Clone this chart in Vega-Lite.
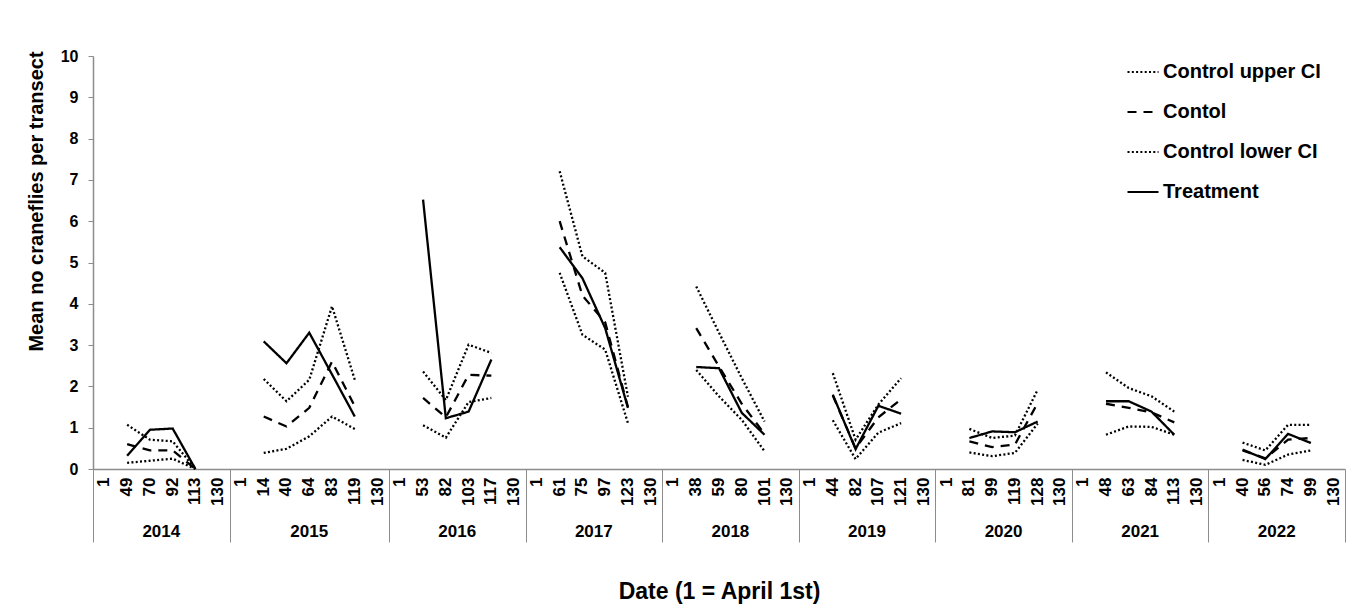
{
  "$schema": "https://vega.github.io/schema/vega-lite/v6.json",
  "autosize": {"type": "none"},
  "padding": {"left": 93, "top": 56, "right": 15, "bottom": 141},
  "width": 1252,
  "height": 413,
  "background": "white",
  "config": {
    "view": {"stroke": null},
    "font": "Liberation Sans",
    "axis": {"grid": false, "labelColor": "#000", "titleColor": "#000", "labelFont": "Liberation Sans", "titleFont": "Liberation Sans", "labelFontWeight": "bold", "titleFontWeight": "bold"}
  },
  "data": {
    "values": [
      {"k": "2014|49", "yr": 2014, "d": 49, "Control upper CI": 1.07, "Contol": 0.60, "Control lower CI": 0.15, "Treatment": 0.32},
      {"k": "2014|70", "yr": 2014, "d": 70, "Control upper CI": 0.71, "Contol": 0.45, "Control lower CI": 0.20, "Treatment": 0.95},
      {"k": "2014|92", "yr": 2014, "d": 92, "Control upper CI": 0.67, "Contol": 0.45, "Control lower CI": 0.25, "Treatment": 0.98},
      {"k": "2014|113", "yr": 2014, "d": 113, "Control upper CI": 0, "Contol": 0, "Control lower CI": 0, "Treatment": 0},
      {"k": "2015|14", "yr": 2015, "d": 14, "Control upper CI": 2.18, "Contol": 1.27, "Control lower CI": 0.39, "Treatment": 3.09},
      {"k": "2015|40", "yr": 2015, "d": 40, "Control upper CI": 1.64, "Contol": 1.03, "Control lower CI": 0.49, "Treatment": 2.56},
      {"k": "2015|64", "yr": 2015, "d": 64, "Control upper CI": 2.16, "Contol": 1.48, "Control lower CI": 0.79, "Treatment": 3.30},
      {"k": "2015|83", "yr": 2015, "d": 83, "Control upper CI": 3.94, "Contol": 2.60, "Control lower CI": 1.27, "Treatment": 2.29},
      {"k": "2015|119", "yr": 2015, "d": 119, "Control upper CI": 2.16, "Contol": 1.52, "Control lower CI": 0.97, "Treatment": 1.27},
      {"k": "2016|53", "yr": 2016, "d": 53, "Control upper CI": 2.36, "Contol": 1.72, "Control lower CI": 1.06, "Treatment": 6.52},
      {"k": "2016|82", "yr": 2016, "d": 82, "Control upper CI": 1.67, "Contol": 1.25, "Control lower CI": 0.76, "Treatment": 1.23},
      {"k": "2016|103", "yr": 2016, "d": 103, "Control upper CI": 3.01, "Contol": 2.28, "Control lower CI": 1.62, "Treatment": 1.39},
      {"k": "2016|117", "yr": 2016, "d": 117, "Control upper CI": 2.81, "Contol": 2.26, "Control lower CI": 1.72, "Treatment": 2.65},
      {"k": "2017|61", "yr": 2017, "d": 61, "Control upper CI": 7.21, "Contol": 6.00, "Control lower CI": 4.75, "Treatment": 5.37},
      {"k": "2017|75", "yr": 2017, "d": 75, "Control upper CI": 5.15, "Contol": 4.20, "Control lower CI": 3.25, "Treatment": 4.62},
      {"k": "2017|97", "yr": 2017, "d": 97, "Control upper CI": 4.75, "Contol": 3.55, "Control lower CI": 2.89, "Treatment": 3.41},
      {"k": "2017|123", "yr": 2017, "d": 123, "Control upper CI": 1.75, "Contol": 1.50, "Control lower CI": 1.11, "Treatment": 1.48},
      {"k": "2018|38", "yr": 2018, "d": 38, "Control upper CI": 4.42, "Contol": 3.41, "Control lower CI": 2.40, "Treatment": 2.47},
      {"k": "2018|59", "yr": 2018, "d": 59, "Control upper CI": 3.30, "Contol": 2.48, "Control lower CI": 1.76, "Treatment": 2.44},
      {"k": "2018|80", "yr": 2018, "d": 80, "Control upper CI": 2.20, "Contol": 1.58, "Control lower CI": 1.19, "Treatment": 1.36},
      {"k": "2018|101", "yr": 2018, "d": 101, "Control upper CI": 1.15, "Contol": 0.85, "Control lower CI": 0.43, "Treatment": 0.83},
      {"k": "2019|44", "yr": 2019, "d": 44, "Control upper CI": 2.32, "Contol": 1.78, "Control lower CI": 1.18, "Treatment": 1.80},
      {"k": "2019|82", "yr": 2019, "d": 82, "Control upper CI": 0.71, "Contol": 0.50, "Control lower CI": 0.24, "Treatment": 0.48},
      {"k": "2019|107", "yr": 2019, "d": 107, "Control upper CI": 1.56, "Contol": 1.25, "Control lower CI": 0.88, "Treatment": 1.53},
      {"k": "2019|121", "yr": 2019, "d": 121, "Control upper CI": 2.20, "Contol": 1.69, "Control lower CI": 1.11, "Treatment": 1.34},
      {"k": "2020|81", "yr": 2020, "d": 81, "Control upper CI": 0.97, "Contol": 0.67, "Control lower CI": 0.40, "Treatment": 0.75},
      {"k": "2020|99", "yr": 2020, "d": 99, "Control upper CI": 0.75, "Contol": 0.53, "Control lower CI": 0.31, "Treatment": 0.91},
      {"k": "2020|119", "yr": 2020, "d": 119, "Control upper CI": 0.81, "Contol": 0.59, "Control lower CI": 0.39, "Treatment": 0.89},
      {"k": "2020|128", "yr": 2020, "d": 128, "Control upper CI": 1.92, "Contol": 1.60, "Control lower CI": 1.10, "Treatment": 1.15},
      {"k": "2021|48", "yr": 2021, "d": 48, "Control upper CI": 2.34, "Contol": 1.58, "Control lower CI": 0.83, "Treatment": 1.64},
      {"k": "2021|63", "yr": 2021, "d": 63, "Control upper CI": 1.96, "Contol": 1.48, "Control lower CI": 1.03, "Treatment": 1.64},
      {"k": "2021|84", "yr": 2021, "d": 84, "Control upper CI": 1.76, "Contol": 1.37, "Control lower CI": 1.02, "Treatment": 1.39},
      {"k": "2021|113", "yr": 2021, "d": 113, "Control upper CI": 1.39, "Contol": 1.13, "Control lower CI": 0.83, "Treatment": 0.83},
      {"k": "2022|40", "yr": 2022, "d": 40, "Control upper CI": 0.64, "Contol": 0.45, "Control lower CI": 0.22, "Treatment": 0.47},
      {"k": "2022|56", "yr": 2022, "d": 56, "Control upper CI": 0.45, "Contol": 0.26, "Control lower CI": 0.10, "Treatment": 0.24},
      {"k": "2022|74", "yr": 2022, "d": 74, "Control upper CI": 1.07, "Contol": 0.71, "Control lower CI": 0.35, "Treatment": 0.85},
      {"k": "2022|99", "yr": 2022, "d": 99, "Control upper CI": 1.07, "Contol": 0.75, "Control lower CI": 0.45, "Treatment": 0.63}
    ]
  },
  "transform": [
    {"fold": ["Control upper CI", "Contol", "Control lower CI", "Treatment"], "as": ["series", "value"]}
  ],
  "resolve": {"axis": {"x": "independent"}},
  "layer": [
    {
      "mark": {"type": "point", "opacity": 0},
      "encoding": {
        "x": {
          "field": "k", "type": "ordinal",
          "scale": {"type": "band", "paddingInner": 0, "paddingOuter": 0, "domain": ["2014|1","2014|49","2014|70","2014|92","2014|113","2014|130","2015|1","2015|14","2015|40","2015|64","2015|83","2015|119","2015|130","2016|1","2016|53","2016|82","2016|103","2016|117","2016|130","2017|1","2017|61","2017|75","2017|97","2017|123","2017|130","2018|1","2018|38","2018|59","2018|80","2018|101","2018|130","2019|1","2019|44","2019|82","2019|107","2019|121","2019|130","2020|1","2020|81","2020|99","2020|119","2020|128","2020|130","2021|1","2021|48","2021|63","2021|84","2021|113","2021|130","2022|1","2022|40","2022|56","2022|74","2022|99","2022|130"]},
          "axis": {
            "orient": "bottom",
            "title": null, "labels": false, "domain": false, "ticks": true,
            "tickBand": "extent", "tickSize": 73, "tickColor": "#8c8c8c", "tickWidth": 1,
            "tickOpacity": {"condition": {"test": "!datum.value || indexof(datum.value, '|130') > 0", "value": 1}, "value": 0}
          }
        }
      }
    },
    {
      "mark": {"type": "point", "opacity": 0},
      "encoding": {
        "x": {
          "field": "k", "type": "ordinal",
          "scale": {"type": "band", "paddingInner": 0, "paddingOuter": 0, "domain": ["2014|1","2014|49","2014|70","2014|92","2014|113","2014|130","2015|1","2015|14","2015|40","2015|64","2015|83","2015|119","2015|130","2016|1","2016|53","2016|82","2016|103","2016|117","2016|130","2017|1","2017|61","2017|75","2017|97","2017|123","2017|130","2018|1","2018|38","2018|59","2018|80","2018|101","2018|130","2019|1","2019|44","2019|82","2019|107","2019|121","2019|130","2020|1","2020|81","2020|99","2020|119","2020|128","2020|130","2021|1","2021|48","2021|63","2021|84","2021|113","2021|130","2022|1","2022|40","2022|56","2022|74","2022|99","2022|130"]},
          "axis": {
            "orient": "bottom",
            "title": "Date (1 = April 1st)", "titleFontSize": 23, "titleY": 122, "titleBaseline": "middle",
            "domain": false, "ticks": false, "labelAngle": 0, "labelAlign": "center", "labelBaseline": "top",
            "labelFontSize": 17, "labelPadding": 54, "labelOverlap": false, "labelLimit": 200,
            "labelExpr": "indexof(['2014|70','2015|64','2016|82','2017|75','2018|59','2019|82','2020|99','2021|63','2022|56'], datum.value) >= 0 ? split(datum.value, '|')[0] : ''",
            "labelOffset": {"condition": {"test": "datum.value == '2015|64'", "value": 0}, "value": 11.4}
          }
        }
      }
    },
    {
      "mark": {"type": "line", "strokeWidth": 2.3, "color": "#000"},
      "encoding": {
        "x": {
          "field": "k", "type": "ordinal",
          "scale": {"type": "band", "paddingInner": 0, "paddingOuter": 0, "domain": ["2014|1","2014|49","2014|70","2014|92","2014|113","2014|130","2015|1","2015|14","2015|40","2015|64","2015|83","2015|119","2015|130","2016|1","2016|53","2016|82","2016|103","2016|117","2016|130","2017|1","2017|61","2017|75","2017|97","2017|123","2017|130","2018|1","2018|38","2018|59","2018|80","2018|101","2018|130","2019|1","2019|44","2019|82","2019|107","2019|121","2019|130","2020|1","2020|81","2020|99","2020|119","2020|128","2020|130","2021|1","2021|48","2021|63","2021|84","2021|113","2021|130","2022|1","2022|40","2022|56","2022|74","2022|99","2022|130"]},
          "axis": {
            "orient": "bottom",
            "title": null, "ticks": false, "domain": true, "domainColor": "#8c8c8c", "domainWidth": 1.5,
            "labelAngle": 270, "labelAlign": "right", "labelBaseline": "middle", "labelPadding": 8,
            "labelFontSize": 17, "labelOverlap": false,
            "labelExpr": "split(datum.value, '|')[1]"
          }
        },
        "y": {
          "field": "value", "type": "quantitative",
          "scale": {"domain": [0, 10], "nice": false, "zero": true},
          "axis": {
            "values": [0,1,2,3,4,5,6,7,8,9,10], "title": "Mean no craneflies per transect",
            "domainColor": "#8c8c8c", "domainWidth": 1.5, "tickColor": "#8c8c8c", "tickSize": 5,
            "labelFontSize": 16, "labelPadding": 10,
            "titleFontSize": 20, "titleX": -57, "titleY": 145, "titleAlign": "center", "titleBaseline": "middle", "titleAngle": 270
          }
        },
        "strokeDash": {
          "field": "series", "type": "nominal",
          "scale": {"domain": ["Control upper CI", "Contol", "Control lower CI", "Treatment"], "range": [[2, 2.3], [9, 7], [2, 2.3], [1, 0]]},
          "legend": {
            "title": null, "orient": "none", "legendX": 1033, "legendY": -1, "padding": 0,
            "symbolType": "stroke", "symbolSize": 961, "symbolStrokeWidth": 2.2, "symbolStrokeColor": "#000",
            "labelFontSize": 20, "labelFontWeight": "bold", "labelFont": "Liberation Sans", "labelColor": "#000",
            "labelOffset": 3, "rowPadding": 13, "labelLimit": 400
          }
        },
        "detail": {"field": "yr", "type": "nominal"},
        "order": {"field": "d", "type": "quantitative"}
      }
    }
  ]
}
